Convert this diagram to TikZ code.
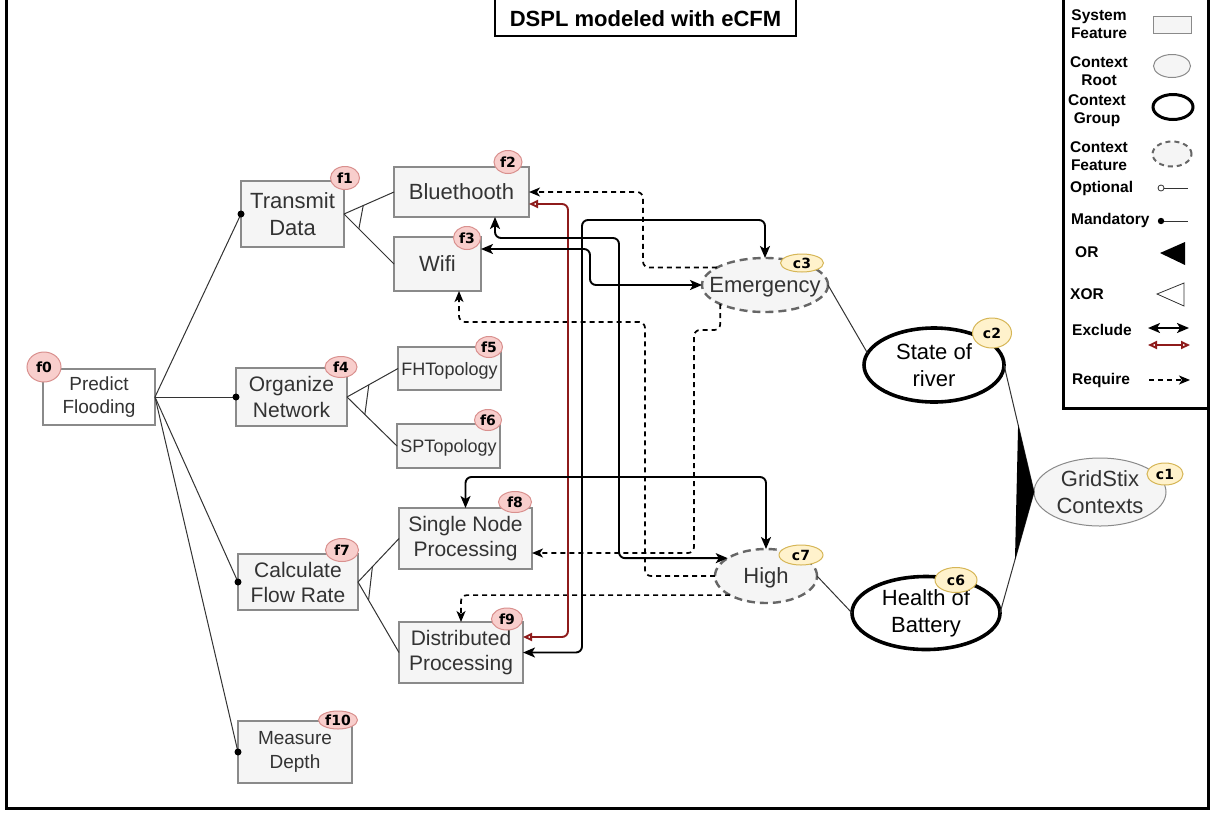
\documentclass[tikz,border=0pt]{standalone}
\usepackage{fontspec}
\setmainfont{Liberation Sans}
\newfontfamily\badgefont{DejaVu Sans}
\usetikzlibrary{arrows.meta,calc,shapes.geometric}

\definecolor{featfill}{HTML}{F5F5F5}
\definecolor{featline}{HTML}{8A8A8A}
\definecolor{feattext}{HTML}{333333}
\definecolor{ctxline}{HTML}{666666}
\definecolor{fbfill}{HTML}{F8CECC}
\definecolor{fbline}{HTML}{D9908E}
\definecolor{cbfill}{HTML}{FFF2CC}
\definecolor{cbline}{HTML}{D6B656}
\definecolor{exclred}{HTML}{8E1B1B}
\definecolor{treeline}{HTML}{333333}

\newcommand{\fsz}[2]{\fontsize{#1}{#2}\selectfont}
% numbered badge: name, style, centre, width, height, text
\newcommand{\putbadge}[6]{%
  \node[#2, minimum width=#4pt, minimum height=#5pt] (#1) at (#3) {};
  \node[badgetext] (#1t) at (#1) {#6};}

\begin{document}
\begin{tikzpicture}[x=1pt,y=-1pt,
  feat/.style={draw=featline, line width=1.3pt, fill=featfill, text=feattext,
    inner sep=0pt, outer sep=0pt, align=center},
  ctxfeat/.style={ellipse, draw=ctxline, line width=2.4pt, dash pattern=on 8pt off 5pt,
    fill=featfill, inner sep=0pt, outer sep=0pt},
  ctxgroup/.style={ellipse, draw=black, line width=3.6pt, fill=white, inner sep=0pt, outer sep=0pt},
  ctxroot/.style={ellipse, draw=featline, line width=1pt, fill=featfill, inner sep=0pt, outer sep=0pt},
  ctxtext/.style={align=center, inner sep=0pt, font=\fsz{22}{27}},
  fbadge/.style={ellipse, draw=fbline, fill=fbfill, line width=1pt, inner sep=0pt},
  cbadge/.style={ellipse, draw=cbline, fill=cbfill, line width=1pt, inner sep=0pt},
  badgetext/.style={inner sep=0pt, font=\badgefont\bfseries\fsz{14}{14}},
  tree/.style={draw=treeline, line width=1pt},
  exblk/.style={draw=black, line width=1.9pt, rounded corners=6pt,
    {Stealth[length=12pt,width=10pt,inset=3pt]}-{Stealth[length=12pt,width=10pt,inset=3pt]}},
  exred/.style={draw=exclred, line width=1.9pt, rounded corners=6pt,
    {Triangle[open,length=9pt,width=8pt]}-{Triangle[open,length=9pt,width=8pt]}},
  reqarrow/.style={draw=black, line width=1.7pt, dash pattern=on 5pt off 4pt, rounded corners=6pt,
    -{Stealth[length=11pt,width=9pt,inset=3pt]}},
  lgtext/.style={align=center, inner sep=0pt, font=\bfseries\fsz{15.5}{18}},
]
\useasboundingbox (0,0) rectangle (1214,812);
\fill[white] (0,0) rectangle (1214,812);

% outer frame and title
\draw[line width=3pt] (6,-10) rectangle (1208,808);
\node[draw, line width=2pt, fill=white, minimum width=301pt, minimum height=48pt, inner sep=0pt] (title) at (645.5,12) {};
\node[inner sep=0pt, font=\bfseries\fsz{22}{26}] (titletext) at (645.5,19) {DSPL modeled with eCFM};

% system features
\node[feat, fill=white, minimum width=112pt, minimum height=56pt, font=\fsz{19}{23}] (f0) at (99,397) {Predict\\Flooding};
\node[feat, minimum width=103pt, minimum height=66pt, font=\fsz{22}{27}] (f1) at (292.5,214) {Transmit\\Data};
\node[feat, minimum width=135pt, minimum height=50pt, font=\fsz{22}{27}] (f2) at (461.5,192) {Bluethooth};
\node[feat, minimum width=87pt, minimum height=54pt, font=\fsz{22}{27}] (f3) at (437.5,264) {Wifi};
\node[feat, minimum width=111pt, minimum height=58pt, font=\fsz{21}{26}] (f4) at (291.5,397) {Organize\\Network};
\node[feat, minimum width=103pt, minimum height=43pt, font=\fsz{18}{22}, text depth=0pt] (f5) at (449.5,368.5) {FHTopology};
\node[feat, minimum width=103pt, minimum height=44pt, font=\fsz{18}{22}, text depth=0pt] (f6) at (448.5,446) {SPTopology};
\node[feat, minimum width=120pt, minimum height=56pt, font=\fsz{21}{25}] (f7) at (298,582) {Calculate\\Flow Rate};
\node[feat, minimum width=133pt, minimum height=61pt, font=\fsz{21}{25}] (f8) at (465.5,538.5) {Single Node\\Processing};
\node[feat, minimum width=124pt, minimum height=61pt, font=\fsz{21}{25}] (f9) at (461,652.5) {Distributed\\Processing};
\node[feat, minimum width=114pt, minimum height=62pt, font=\fsz{19}{24}] (f10) at (295,752) {Measure\\Depth};

% contexts
\node[ctxfeat, minimum width=126pt, minimum height=54pt] (c3) at (765,285) {};
\node[ctxtext, text=feattext, text depth=0pt] (c3t) at (c3) {Emergency};
\node[ctxfeat, minimum width=102pt, minimum height=54pt] (c7) at (766,576) {};
\node[ctxtext, text=feattext, text depth=0pt] (c7t) at (c7) {High};
\node[ctxgroup, minimum width=140pt, minimum height=74pt] (c2) at (934,365) {};
\node[ctxtext] (c2t) at (c2) {State of\\river};
\node[ctxgroup, minimum width=148pt, minimum height=73pt] (c6) at (926,613) {};
\node[ctxtext] (c6t) at (c6) {Health of\\Battery};
\node[ctxroot, minimum width=132pt, minimum height=68pt] (c1) at (1100,492) {};
\node[ctxtext, text=feattext] (c1t) at (c1) {GridStix\\Contexts};

% mandatory children of the root feature
\foreach \n in {f1,f4,f7,f10} {
  \draw[tree] (f0.east) -- (\n.west);
  \fill[black] (\n.west) circle (3.5pt);
}

% XOR groups
\draw[tree] (f1.east) -- (f2.west) (f1.east) -- (f3.west);
\draw[tree] ($(f1.east)!21pt!(f2.west)$) -- ($(f1.east)!21pt!(f3.west)$);
\draw[tree] (f4.east) -- (f5.west) (f4.east) -- (f6.west);
\draw[tree] ($(f4.east)!25pt!(f5.west)$) -- ($(f4.east)!25pt!(f6.west)$);
\draw[tree] (f7.east) -- (f8.west) (f7.east) -- (f9.west);
\draw[tree] ($(f7.east)!21pt!(f8.west)$) -- ($(f7.east)!21pt!(f9.west)$);

% context tree
\draw[tree] (c3.east) -- (c2.170);
\draw[tree] (c7.east) -- (c6.west);
\draw[tree] (c1.west) -- (c2.east) (c1.west) -- (c6.east);
\fill[black] (c1.west) -- ($(c1.west)!0.53!(c2.east)$) -- ($(c1.west)!0.56!(c6.east)$) -- cycle;

% require constraints
\draw[reqarrow] (c3.160) -| (643,192) -- (f2.east);
\draw[reqarrow] (c7.west) -| (645,322) -| ([xshift=21.5pt]f3.south);
\draw[reqarrow] (c3.203) |- (694,330) |- ([yshift=-14.5pt]f8.east);
\draw[reqarrow] (c7.208) -| (f9.north);

% exclude constraints
\draw[exred] ([yshift=-12pt]f2.east) -| (568,637) -- ([yshift=15.5pt]f9.east);
\draw[exblk] (f9.east) -| (582,220) -| (c3.north);
\draw[exblk] ([xshift=33.5pt]f2.south) |- (619,238) |- (c7.155);
\draw[exblk] ([yshift=15pt]f3.east) -| (590,285) -- (c3.west);
\draw[exblk] (f8.north) |- (766,477) -- (c7.north);

% badges
\putbadge{bf0}{fbadge}{44,367}{34}{30}{f0}
\putbadge{bf1}{fbadge}{345,178}{29}{23}{f1}
\putbadge{bf2}{fbadge}{508,162}{28}{23}{f2}
\putbadge{bf3}{fbadge}{467,238}{27}{23}{f3}
\putbadge{bf4}{fbadge}{341,367}{32}{21}{f4}
\putbadge{bf5}{fbadge}{489,347}{27}{21}{f5}
\putbadge{bf6}{fbadge}{488,420}{27}{21}{f6}
\putbadge{bf7}{fbadge}{342,550}{33}{23}{f7}
\putbadge{bf8}{fbadge}{515,502}{33}{21}{f8}
\putbadge{bf9}{fbadge}{507,619}{31}{22}{f9}
\putbadge{bf10}{fbadge}{338,720}{39}{18}{f10}
\putbadge{bc1}{cbadge}{1165,474}{36}{22}{c1}
\putbadge{bc2}{cbadge}{992,333}{39}{30}{c2}
\putbadge{bc3}{cbadge}{802,263}{43}{18}{c3}
\putbadge{bc6}{cbadge}{956,580}{42}{25}{c6}
\putbadge{bc7}{cbadge}{801,555}{44}{20}{c7}

% legend
\draw[line width=3pt, fill=white] (1063,-10) rectangle (1208,408);
\node[lgtext] (lg1) at (1099,24) {System\\Feature};
\node[feat, minimum width=38pt, minimum height=17pt, line width=1pt] (lgs1) at (1172,24.5) {};
\node[lgtext] (lg2) at (1099,71) {Context\\Root};
\node[ctxroot, minimum width=37pt, minimum height=23pt] (lgs2) at (1172,66) {};
\node[lgtext] (lg3) at (1097,111) {Context\\Group};
\node[ctxgroup, minimum width=40pt, minimum height=25pt, line width=3pt] (lgs3) at (1173,107) {};
\node[lgtext] (lg4) at (1099,156) {Context\\Feature};
\node[ctxfeat, minimum width=39pt, minimum height=25pt, line width=2pt, dash pattern=on 5pt off 4pt] (lgs4) at (1172,154) {};
\node[lgtext, anchor=west] (lg5) at (1070,188) {Optional};
\draw[tree] (1164,188) -- (1188,188);
\draw[treeline, line width=0.8pt, fill=white] (1161,188) circle (3pt);
\node[lgtext, anchor=west] (lg6) at (1071,220) {Mandatory};
\draw[tree] (1161,221) -- (1188,221);
\fill[black] (1161,221) circle (3.2pt);
\node[lgtext, anchor=west] (lg7) at (1075,252) {OR};
\fill[black] (1160,253) -- (1185,242) -- (1185,265) -- cycle;
\node[lgtext, anchor=west] (lg8) at (1070,294) {XOR};
\draw[treeline, line width=0.8pt] (1157,294) -- (1184,283) -- (1184,306) -- cycle;
\node[lgtext, anchor=west] (lg9) at (1072,330) {Exclude};
\draw[exblk] (1148,328) -- (1189,328);
\draw[exred] (1148,345) -- (1190,345);
\node[lgtext, anchor=west] (lg10) at (1072,380) {Require};
\draw[reqarrow] (1149,380) -- (1190,380);
\end{tikzpicture}
\end{document}
